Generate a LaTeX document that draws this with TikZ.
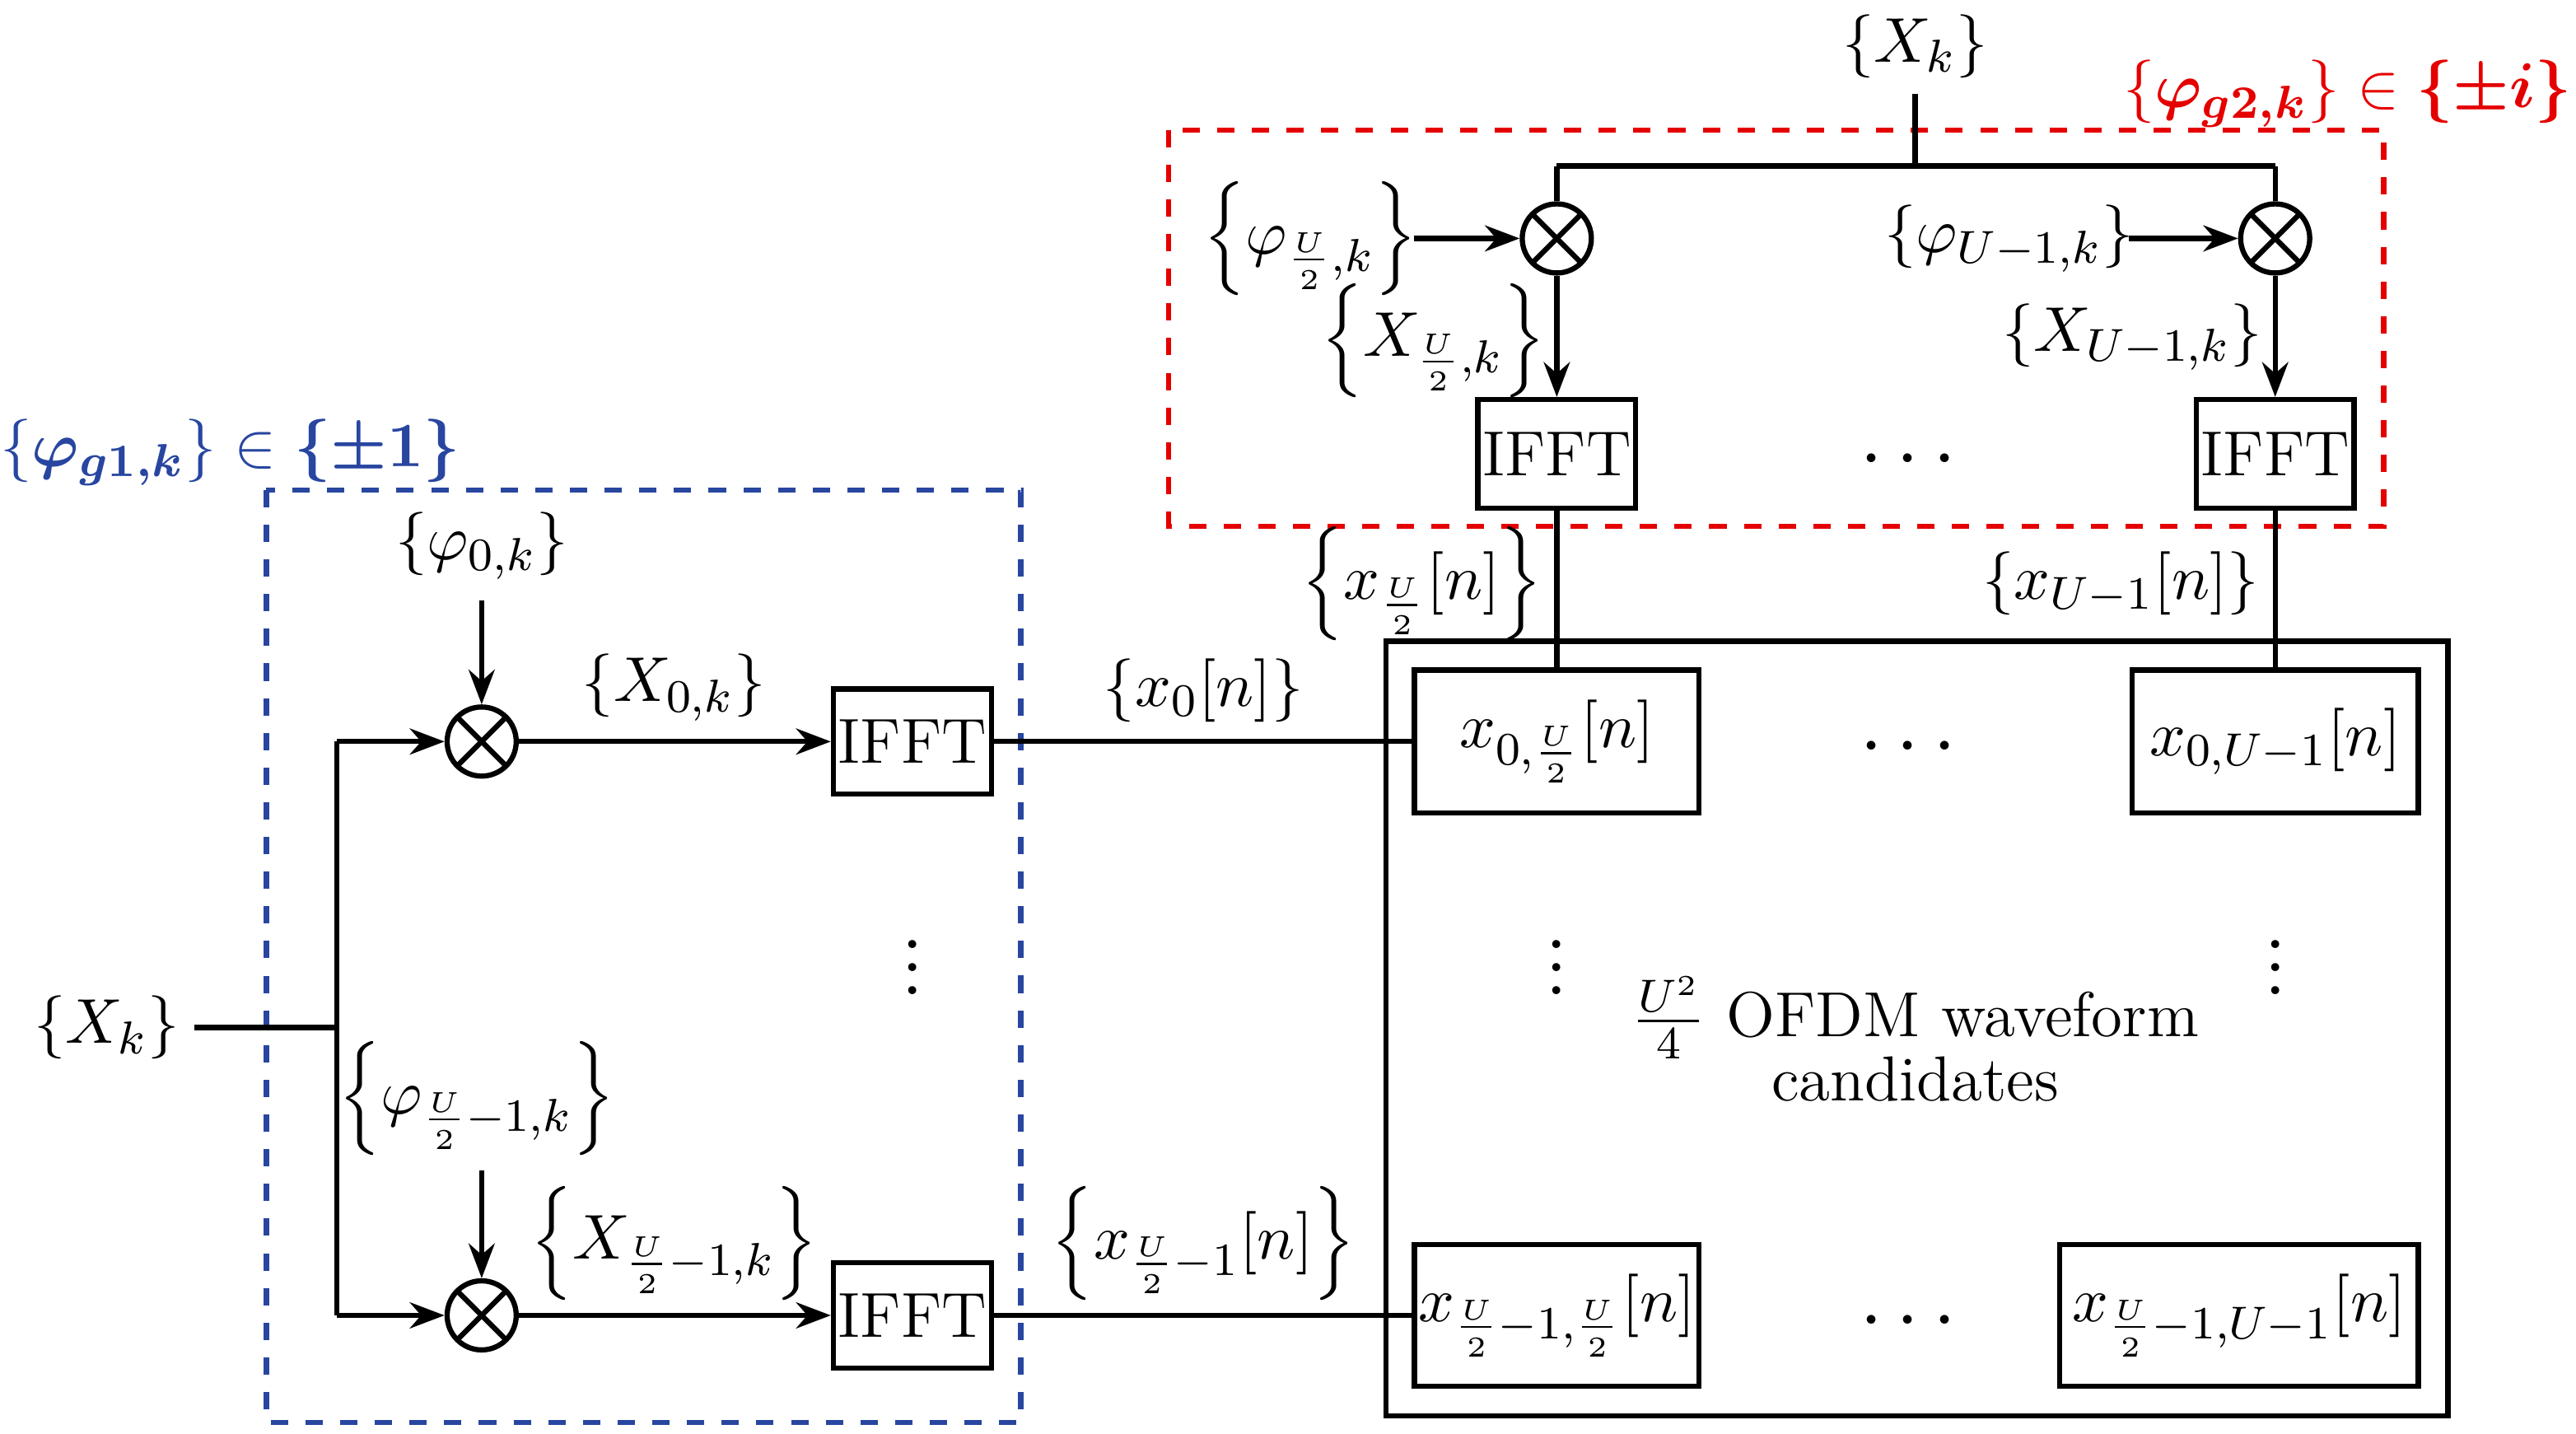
\documentclass[tikz,border=0pt]{standalone}
\usepackage{amsmath,bm}
\usetikzlibrary{arrows.meta}
\begin{document}
\fontsize{11}{13}\selectfont
\begin{tikzpicture}[x=0.01cm,y=-0.01cm,line width=0.9pt,
  box/.style={draw,inner sep=0,anchor=center},
  mul/.style={draw,circle,minimum size=0.42cm,inner sep=0,
    path picture={\draw ([shift={(45:0.21cm)}]path picture bounding box.center) -- ([shift={(225:0.21cm)}]path picture bounding box.center);
    \draw ([shift={(135:0.21cm)}]path picture bounding box.center) -- ([shift={(315:0.21cm)}]path picture bounding box.center);}},
  arr/.style={-{Stealth[length=6pt,width=4.5pt]}},
  lab/.style={inner sep=0},
  vd/.style={inner sep=0,font=\Large}]
\useasboundingbox (0,0) rectangle (1567,872);
% dashed frames
\draw[dashed,color={rgb,255:red,40;green,70;blue,160}] (162,298) rectangle (621,865);
\node[lab,color={rgb,255:red,40;green,70;blue,160}] (gl) at (140,275) {$\left\{\bm{\varphi_{g1,k}}\right\}\in\bm{\{\pm 1\}}$};
\draw[dashed,red!90!black] (711,79) rectangle (1450,320);
\node[lab,red!90!black] (gr) at (1428,57) {$\left\{\bm{\varphi_{g2,k}}\right\}\in\bm{\{\pm i\}}$};
% big box
\draw (843,390) rectangle (1489,861);
% left part
\node[lab] (Xin) at (65,625) {$\{X_k\}$};
\coordinate (j) at (205,625);
\coordinate (jt) at (205,451);
\coordinate (jb) at (205,800);
\node[mul] (m0) at (293,451) {};
\node[mul] (m1) at (293,800) {};
\draw (118,625) -- (j);
\draw (jt) -- (jb);
\draw[arr] (jt) -- (m0);
\draw[arr] (jb) -- (m1);
\node[lab] (p0) at (293,332) {$\{\varphi_{0,k}\}$};
\draw[arr] (293,365) -- (m0);
\node[lab] (p1) at (290,668) {$\left\{\varphi_{\frac{U}{2}-1,k}\right\}$};
\draw[arr] (293,712) -- (m1);
\node[box,minimum width=0.96cm,minimum height=0.64cm] (f0) at (555,451) {IFFT};
\node[box,minimum width=0.96cm,minimum height=0.64cm] (f1) at (555,800) {IFFT};
\draw[arr] (m0) -- (f0);
\draw[arr] (m1) -- (f1);
\node[lab] at (410,418) {$\{X_{0,k}\}$};
\node[lab] at (410,756) {$\left\{X_{\frac{U}{2}-1,k}\right\}$};
\node[vd] at (555,578) {$\vdots$};
% candidate boxes
\node[box,minimum width=1.73cm,minimum height=0.87cm] (c00) at (947,451) {$x_{0,\frac{U}{2}}[n]$};
\node[box,minimum width=1.74cm,minimum height=0.87cm] (c01) at (1384,451) {$x_{0,U-1}[n]$};
\node[box,minimum width=1.73cm,minimum height=0.86cm] (c10) at (947,800) {$x_{\frac{U}{2}-1,\frac{U}{2}}[n]$};
\node[box,minimum width=2.18cm,minimum height=0.86cm] (c11) at (1362,800) {$x_{\frac{U}{2}-1,U-1}[n]$};
\draw (f0) -- (c00);
\draw (f1) -- (c10);
\node[lab] at (732,420) {$\{x_0[n]\}$};
\node[lab] at (732,756) {$\left\{x_{\frac{U}{2}-1}[n]\right\}$};
\node[vd] at (1165,455) {$\cdots$};
\node[vd] at (1165,804) {$\cdots$};
\node[vd] at (947,578) {$\vdots$};
\node[vd] at (1384,578) {$\vdots$};
\node[lab,align=center] at (1165,632) {$\frac{U^2}{4}$ OFDM waveform\\[-2pt] candidates};
% top part
\node[lab] (Xt) at (1165,28) {$\{X_k\}$};
\coordinate (t) at (1165,101);
\coordinate (tl) at (947,101);
\coordinate (tr) at (1384,101);
\node[mul] (m2) at (947,145) {};
\node[mul] (m3) at (1384,145) {};
\draw (1165,57) -- (t);
\draw (tl) -- (tr);
\draw (tl) -- (m2);
\draw (tr) -- (m3);
\node[lab] at (797,145) {$\left\{\varphi_{\frac{U}{2},k}\right\}$};
\draw[arr] (860,145) -- (m2);
\node[lab] at (1222,145) {$\{\varphi_{U-1,k}\}$};
\draw[arr] (1295,145) -- (m3);
\node[box,minimum width=0.96cm,minimum height=0.66cm] (f2) at (947,276) {IFFT};
\node[box,minimum width=0.96cm,minimum height=0.66cm] (f3) at (1384,276) {IFFT};
\draw[arr] (m2) -- (f2);
\draw[arr] (m3) -- (f3);
\node[lab] at (872,207) {$\left\{X_{\frac{U}{2},k}\right\}$};
\node[lab] at (1297,205) {$\{X_{U-1,k}\}$};
\node[vd] at (1165,280) {$\cdots$};
\draw (f2) -- (c00);
\draw (f3) -- (c01);
\node[lab] at (865,355) {$\left\{x_{\frac{U}{2}}[n]\right\}$};
\node[lab] at (1290,355) {$\{x_{U-1}[n]\}$};
\end{tikzpicture}
\end{document}
